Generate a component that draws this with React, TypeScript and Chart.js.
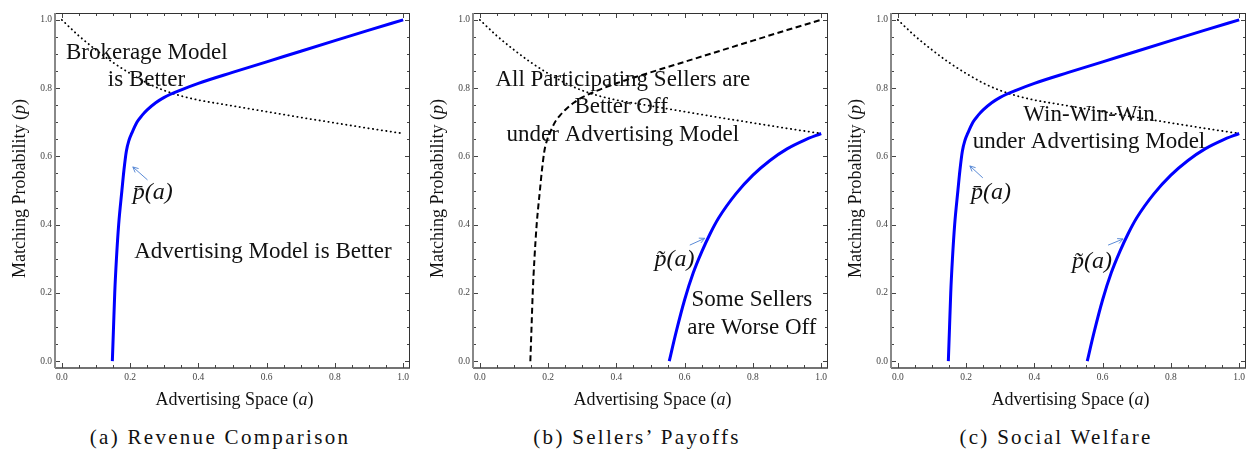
import React, { useEffect, useRef } from 'react';
import { Chart, registerables } from 'chart.js';

Chart.register(...registerables);

// ---- axis ticks ----
const majorTicks = [0, 0.2, 0.4, 0.6, 0.8, 1.0];
const minorTicks = [0.05, 0.1, 0.15, 0.25, 0.3, 0.35, 0.45, 0.5, 0.55, 0.65, 0.7, 0.75, 0.85, 0.9, 0.95];

// ---- curves ----
// p-bar(a): blue threshold curve (panels a, c)
const aBar = [0.148, 0.1515, 0.155, 0.16, 0.1665, 0.176, 0.182, 0.189, 0.197, 0.205, 0.22, 0.235, 0.25, 0.275, 0.3, 0.35, 0.4, 0.5, 0.6, 0.7, 0.8, 0.9, 1.0];
const pBar = [0, 0.1, 0.2, 0.3, 0.4, 0.5, 0.56, 0.615, 0.648, 0.668, 0.7, 0.72, 0.736, 0.757, 0.773, 0.795, 0.814, 0.846, 0.877, 0.908, 0.939, 0.97, 1.0];

// dashed black curve (panel b)
const aDash = [0.148, 0.1515, 0.155, 0.16, 0.1665, 0.176, 0.182, 0.189, 0.197, 0.205, 0.22, 0.235, 0.25, 0.275, 0.3, 0.35, 0.4, 0.5, 0.6, 0.7, 0.8, 0.9, 1.0];
const pDash = [0, 0.1, 0.2, 0.3, 0.4, 0.5, 0.56, 0.615, 0.648, 0.668, 0.7, 0.72, 0.736, 0.757, 0.773, 0.795, 0.814, 0.846, 0.877, 0.908, 0.939, 0.97, 1.0];

// dotted black curve (all panels)
const aDot = [0, 0.05, 0.1, 0.15, 0.2, 0.25, 0.3, 0.35, 0.4, 0.5, 0.6, 0.7, 0.8, 0.9, 1.0];
const pDot = [1.0, 0.953, 0.912, 0.875, 0.843, 0.815, 0.793, 0.777, 0.765, 0.748, 0.731, 0.714, 0.698, 0.682, 0.667];

// p-tilde(a): blue curve (panels b, c)
const aTilde = [0.555, 0.575, 0.6, 0.625, 0.65, 0.675, 0.7, 0.75, 0.8, 0.85, 0.9, 0.95, 1.0];
const pTilde = [0, 0.085, 0.18, 0.258, 0.32, 0.374, 0.42, 0.49, 0.545, 0.588, 0.622, 0.647, 0.667];

const captions = ['(a) Revenue Comparison', '(b) Sellers\u2019 Payoffs', '(c) Social Welfare'];
const captionCenters = [220, 637, 1056];
const panelLefts = [0, 418, 836];

const BLUE = '#0000ff';
const ARROW = '#5b8bd6';

const toPts = (xs: number[], ys: number[]) => xs.map((x, i) => ({ x, y: ys[i] }));

const blueLine = (xs: number[], ys: number[]) => ({
  data: toPts(xs, ys),
  showLine: true,
  borderColor: BLUE,
  borderWidth: 3,
  pointRadius: 0,
  cubicInterpolationMode: 'monotone',
  fill: false,
});
const dottedLine = () => ({
  data: toPts(aDot, pDot),
  showLine: true,
  borderColor: '#000',
  borderWidth: 1.8,
  borderDash: [0.3, 4.2],
  borderCapStyle: 'round',
  pointRadius: 0,
  cubicInterpolationMode: 'monotone',
  fill: false,
});
const dashedLine = () => ({
  data: toPts(aDash, pDash),
  showLine: true,
  borderColor: '#000',
  borderWidth: 2,
  borderDash: [6, 3.5],
  pointRadius: 0,
  cubicInterpolationMode: 'monotone',
  fill: false,
});

type Note = { t: string; a: number; p: number };
type Arrow = { a1: number; p1: number; a2: number; p2: number };

const panels = [
  {
    datasets: () => [blueLine(aBar, pBar), dottedLine()],
    notes: [
      { t: 'Brokerage Model', a: 0.249, p: 0.903 },
      { t: 'is Better', a: 0.248, p: 0.824 },
      { t: 'Advertising Model is Better', a: 0.589, p: 0.321 },
    ] as Note[],
    math: [{ t: 'p\u0304(a)', a: 0.266, p: 0.493 }] as Note[],
    arrows: [{ a1: 0.251, p1: 0.531, a2: 0.208, p2: 0.569 }] as Arrow[],
  },
  {
    datasets: () => [dottedLine(), dashedLine(), blueLine(aTilde, pTilde)],
    notes: [
      { t: 'All Participating Sellers are', a: 0.419, p: 0.824 },
      { t: 'Better Off', a: 0.414, p: 0.745 },
      { t: 'under Advertising Model', a: 0.419, p: 0.663 },
      { t: 'Some Sellers', a: 0.797, p: 0.179 },
      { t: 'are Worse Off', a: 0.797, p: 0.097 },
    ] as Note[],
    math: [{ t: 'p\u0303(a)', a: 0.57, p: 0.296 }] as Note[],
    arrows: [{ a1: 0.615, p1: 0.34, a2: 0.659, p2: 0.36 }] as Arrow[],
  },
  {
    datasets: () => [blueLine(aBar, pBar), blueLine(aTilde, pTilde), dottedLine()],
    notes: [
      { t: 'Win-Win-Win', a: 0.56, p: 0.721 },
      { t: 'under Advertising Model', a: 0.56, p: 0.642 },
    ] as Note[],
    math: [
      { t: 'p\u0304(a)', a: 0.273, p: 0.493 },
      { t: 'p\u0303(a)', a: 0.569, p: 0.29 },
    ] as Note[],
    arrows: [
      { a1: 0.249, p1: 0.537, a2: 0.211, p2: 0.572 },
      { a1: 0.616, p1: 0.34, a2: 0.66, p2: 0.358 },
    ] as Arrow[],
  },
];

const SERIF = '"Liberation Serif", "Times New Roman", serif';

const decorPlugin = {
  id: 'decor',
  afterDatasetsDraw(chart: any, _args: any, opts: any) {
    const { ctx, chartArea } = chart;
    const { left, right, top, bottom } = chartArea;
    const xs = chart.scales.x;
    const ys = chart.scales.y;
    const line = (x1: number, y1: number, x2: number, y2: number) => {
      ctx.beginPath();
      ctx.moveTo(x1, y1);
      ctx.lineTo(x2, y2);
      ctx.stroke();
    };
    ctx.save();
    // inward ticks on all four sides
    ctx.strokeStyle = '#444';
    ctx.lineWidth = 1;
    const tick = (v: number, len: number) => {
      const px = Math.round(xs.getPixelForValue(v)) + 0.5;
      line(px, bottom, px, bottom - len);
      line(px, top, px, top + len);
      const py = Math.round(ys.getPixelForValue(v)) + 0.5;
      line(left, py, left + len, py);
      line(right, py, right - len, py);
    };
    majorTicks.forEach((v) => tick(v, 5));
    minorTicks.forEach((v) => tick(v, 3));
    // frame
    ctx.strokeStyle = '#333';
    ctx.lineWidth = 1;
    line(left, top + 0.5, right, top + 0.5);
    line(right - 0.5, top, right - 0.5, bottom);
    ctx.strokeStyle = '#444';
    ctx.lineWidth = 1.6;
    line(left, bottom, right, bottom);
    ctx.strokeStyle = '#888';
    ctx.lineWidth = 2;
    line(left, top, left, bottom);

    // region notes
    ctx.fillStyle = '#111';
    ctx.textAlign = 'center';
    ctx.textBaseline = 'middle';
    ctx.font = `23px ${SERIF}`;
    (opts.notes as Note[]).forEach((n) => {
      ctx.fillText(n.t, xs.getPixelForValue(n.a), ys.getPixelForValue(n.p));
    });
    // math labels
    ctx.font = `italic 24px ${SERIF}`;
    (opts.math as Note[]).forEach((n) => {
      ctx.fillText(n.t, xs.getPixelForValue(n.a), ys.getPixelForValue(n.p));
    });
    // arrows
    ctx.strokeStyle = ARROW;
    ctx.lineWidth = 1;
    (opts.arrows as Arrow[]).forEach((ar) => {
      const x1 = xs.getPixelForValue(ar.a1);
      const y1 = ys.getPixelForValue(ar.p1);
      const x2 = xs.getPixelForValue(ar.a2);
      const y2 = ys.getPixelForValue(ar.p2);
      line(x1, y1, x2, y2);
      const ang = Math.atan2(y2 - y1, x2 - x1);
      const L = 6;
      for (const d of [0.45, -0.45]) {
        line(x2, y2, x2 - L * Math.cos(ang + d), y2 - L * Math.sin(ang + d));
      }
    });

    // axis titles
    ctx.fillStyle = '#111';
    ctx.textBaseline = 'middle';
    ctx.textAlign = 'left';
    const drawMixed = (parts: { s: string; it: boolean }[], cx: number, cy: number) => {
      let total = 0;
      const widths = parts.map((p) => {
        ctx.font = `${p.it ? 'italic ' : ''}18px ${SERIF}`;
        const w = ctx.measureText(p.s).width;
        total += w;
        return w;
      });
      let x = cx - total / 2;
      parts.forEach((p, i) => {
        ctx.font = `${p.it ? 'italic ' : ''}18px ${SERIF}`;
        ctx.fillText(p.s, x, cy);
        x += widths[i];
      });
    };
    drawMixed(
      [
        { s: 'Advertising Space (', it: false },
        { s: 'a', it: true },
        { s: ')', it: false },
      ],
      (left + right) / 2 + 2,
      400
    );
    ctx.save();
    ctx.translate(20, (top + bottom) / 2 - 2);
    ctx.rotate(-Math.PI / 2);
    drawMixed(
      [
        { s: 'Matching Probability (', it: false },
        { s: 'p', it: true },
        { s: ')', it: false },
      ],
      0,
      0
    );
    ctx.restore();
    ctx.restore();
  },
};

const axis = (isX: boolean) => ({
  type: 'linear',
  min: -0.02,
  max: 1.02,
  grid: { display: false, drawTicks: false },
  border: { display: false },
  afterBuildTicks: (s: any) => {
    s.ticks = majorTicks.map((v) => ({ value: v }));
  },
  afterFit: (s: any) => {
    if (isX) s.height = 44;
    else s.width = 55;
  },
  ticks: {
    padding: isX ? 4 : 3,
    maxRotation: 0,
    autoSkip: false,
    color: '#444',
    font: { family: SERIF, size: 9.5 },
    callback: (v: any) => Number(v).toFixed(1),
  },
});

function Panel({ idx }: { idx: number }) {
  const ref = useRef<HTMLCanvasElement>(null);
  useEffect(() => {
    const spec = panels[idx];
    const chart = new Chart(ref.current as HTMLCanvasElement, {
      type: 'scatter',
      data: { datasets: spec.datasets() as any },
      options: {
        animation: false,
        responsive: false,
        layout: { padding: { top: 13, right: 6, left: 0, bottom: 0 } },
        plugins: {
          legend: { display: false },
          tooltip: { enabled: false },
          decor: { notes: spec.notes, math: spec.math, arrows: spec.arrows },
        } as any,
        scales: { x: axis(true) as any, y: axis(false) as any },
      },
      plugins: [decorPlugin as any],
    });
    return () => chart.destroy();
  }, [idx]);
  return (
    <canvas
      ref={ref}
      width={416}
      height={412}
      style={{ position: 'absolute', left: panelLefts[idx], top: 0, width: 416, height: 412 }}
    />
  );
}

export default function App() {
  return (
    <div style={{ position: 'absolute', left: 0, top: 0, width: 1248, height: 450, background: '#fff', overflow: 'hidden' }}>
      {[0, 1, 2].map((i) => (
        <Panel key={i} idx={i} />
      ))}
      {captions.map((c, i) => (
        <div
          key={c}
          style={{
            position: 'absolute',
            left: captionCenters[i] - 200,
            width: 400,
            top: 426,
            lineHeight: '22px',
            textAlign: 'center',
            fontFamily: SERIF,
            fontSize: 21,
            letterSpacing: '2.3px',
            color: '#111',
            whiteSpace: 'nowrap',
          }}
        >
          {c}
        </div>
      ))}
    </div>
  );
}
